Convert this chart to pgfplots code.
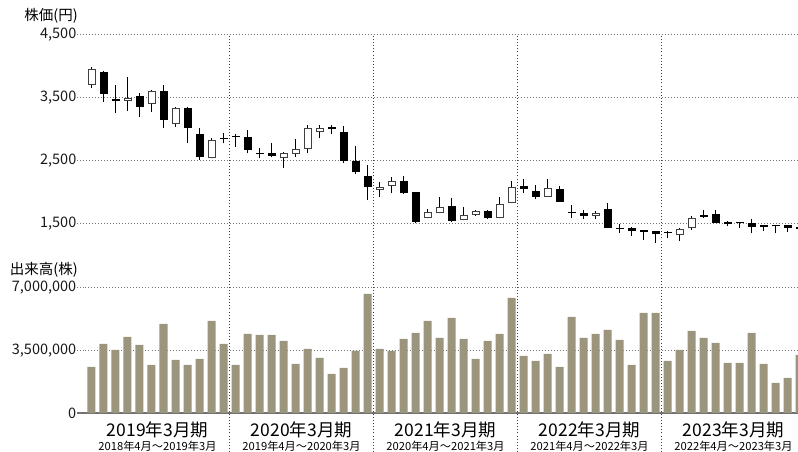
\documentclass[border=0pt]{standalone}
\usepackage{fontspec}
\setmainfont{Noto Sans CJK JP}
\usepackage{pgfplots}
\usepackage{pgfplotstable}
\pgfplotsset{compat=1.18}
\definecolor{barcol}{HTML}{9A957C}
\definecolor{gridcol}{HTML}{777777}

\pgfplotstableread{
x O H L C
0 3706 3987 3654 3956
3 3448 3829 3298 3495
5 3400 3627 3283 3616
7 3083 3352 3045 3341
10 2543 2860 2543 2829
16 2543 2648 2384 2632
17 2606 2844 2569 2686
18 2686 3071 2622 3024
19 2965 3071 2860 3029
24 2040 2171 1933 2092
25 2103 2251 1987 2183
28 1590 1733 1590 1690
29 1680 1924 1670 1765
31 1559 1765 1559 1638
32 1643 1722 1627 1701
34 1590 1924 1590 1817
35 1838 2183 1829 2092
38 1934 2210 1934 2077
42 1627 1711 1575 1670
49 1325 1442 1235 1421
50 1432 1627 1405 1590
}\upT

\pgfplotstableread{
x O H L C
1 3913 3933 3441 3568
2 3484 3706 3257 3460
4 3532 3575 3203 3357
6 3606 3706 3029 3156
8 3346 3352 2781 3024
9 2933 3019 2516 2559
11 2865 2940 2781 2845
12 2895 2924 2727 2877
13 2876 2992 2622 2675
14 2632 2702 2543 2612
15 2632 2790 2559 2580
20 3040 3071 2924 3005
21 2956 3056 2463 2505
22 2505 2738 2294 2321
23 2262 2437 1881 2083
26 2187 2262 1976 1997
27 2003 2010 1511 1537
30 1791 1908 1537 1553
33 1701 1717 1580 1590
36 2103 2210 1987 2056
37 2024 2119 1892 1934
39 2056 2103 1854 1854
40 1697 1802 1600 1675
41 1670 1722 1575 1627
43 1738 1828 1432 1432
44 1442 1500 1362 1420
45 1441 1457 1315 1389
46 1399 1399 1246 1378
47 1394 1394 1203 1336
48 1370 1394 1273 1355
51 1637 1722 1590 1617
52 1659 1722 1521 1521
53 1527 1553 1468 1495
54 1535 1537 1432 1518
55 1511 1575 1352 1457
56 1478 1484 1394 1458
57 1484 1484 1352 1468
58 1484 1484 1378 1441
59 1445 1470 1400 1420
}\dnT

\pgfplotstableread{
x v
0 2576000
1 3864000
2 3528000
3 4256000
4 3808000
5 2688000
6 4984000
7 2968000
8 2688000
9 3024000
10 5152000
11 3864000
12 2688000
13 4424000
14 4368000
15 4368000
16 4032000
17 2744000
18 3584000
19 3080000
20 2184000
21 2520000
22 3472000
23 6664000
24 3584000
25 3472000
26 4144000
27 4480000
28 5152000
29 4200000
30 5320000
31 4144000
32 3024000
33 4032000
34 4424000
35 6440000
36 3192000
37 2912000
38 3304000
39 2576000
40 5376000
41 4200000
42 4424000
43 4648000
44 4088000
45 2688000
46 5600000
47 5600000
48 2912000
49 3528000
50 4592000
51 4200000
52 3920000
53 2800000
54 2800000
55 4480000
56 2744000
57 1680000
58 1960000
59 3248000
}\volT

\pgfplotsset{
  common/.style={
    scale only axis,
    width=712.5pt,
    xmin=-0.5, xmax=58.875,
    axis line style={draw=none},
    xtick=\empty,
    extra x ticks={11.5,23.5,35.5,47.5},
    extra x tick labels={},
    extra x tick style={grid=major, major tick length=0pt,
      major grid style={draw=black!75, line width=0.9pt, dash pattern=on 0.9pt off 2.2pt}},
    ymajorgrids,
    major grid style={draw=gridcol, line width=1pt, dash pattern=on 1pt off 2pt},
    tick align=outside,
    major tick length=8pt,
    tick style={draw=gridcol, line width=1pt, dash pattern=on 1pt off 2pt},
    tick label style={font=\fontsize{14.5}{14.5}\selectfont, text=black!90},
    yticklabel style={inner sep=1pt},
    clip=true,
  }
}
\newcommand{\fyfont}{\fontsize{17.5}{17.5}\selectfont}
\newcommand{\subfont}{\fontsize{11.2}{11.2}\selectfont}

\begin{document}
\begin{tikzpicture}[x=1pt,y=1pt]
\path[use as bounding box] (0,0) rectangle (798,452);

% price panel
\begin{axis}[common,
  at={(85.5pt,164pt)}, anchor=south west,
  height=253pt,
  ymin=484, ymax=4500,
  ytick={1500,2500,3500,4500},
  yticklabels={{1,500},{2,500},{3,500},{4,500}},
]
\addplot[draw=none, error bars/.cd, y dir=plus, y explicit, error mark=none,
  error bar style={draw=black, line width=1.8pt}]
  table[x=x, y=L, y error plus expr=\thisrow{H}-\thisrow{L}] {\upT};
\addplot[draw=none, error bars/.cd, y dir=plus, y explicit, error mark=none,
  error bar style={draw=black, line width=1.8pt}]
  table[x=x, y=L, y error plus expr=\thisrow{H}-\thisrow{L}] {\dnT};
\addplot[draw=none, error bars/.cd, y dir=plus, y explicit, error mark=none,
  error bar style={draw=black, line width=8pt}]
  table[x=x, y=C, y error plus expr=\thisrow{O}-\thisrow{C}] {\dnT};
\addplot[draw=none, error bars/.cd, y dir=plus, y explicit, error mark=none,
  error bar style={draw=black!75, line width=8pt}]
  table[x=x, y=O, y error plus expr=\thisrow{C}-\thisrow{O}] {\upT};
\addplot[draw=none, error bars/.cd, y dir=plus, y explicit, error mark=none,
  error bar style={draw=white, line width=6pt}]
  table[x=x, y expr=\thisrow{O}+16, y error plus expr=\thisrow{C}-\thisrow{O}-32] {\upT};
\end{axis}

% volume panel
\begin{axis}[common,
  at={(85.5pt,0pt)}, anchor=south west,
  height=164pt,
  ymin=-2184000, ymax=7000000,
  ytick={3500000,7000000},
  yticklabels={{3,500,000},{7,000,000}},
  scaled y ticks=false,
  extra y ticks={0},
  extra y tick labels={0},
  extra y tick style={grid=major,
     major grid style={draw=black!55, line width=1.8pt, solid},
     tick style={draw=black!55, line width=1.8pt, solid}},
]
\addplot[ybar, bar width=8pt, bar shift=0pt, fill=barcol, draw=none]
  table[x=x, y=v] {\volT};
\node[font=\fyfont] at (axis cs:5.5,-952000) {2019年3月期};
\node[font=\fyfont] at (axis cs:17.5,-952000) {2020年3月期};
\node[font=\fyfont] at (axis cs:29.5,-952000) {2021年3月期};
\node[font=\fyfont] at (axis cs:41.5,-952000) {2022年3月期};
\node[font=\fyfont] at (axis cs:53.5,-952000) {2023年3月期};
\node[font=\subfont] at (axis cs:5.5,-1880000) {2018年4月～2019年3月};
\node[font=\subfont] at (axis cs:17.5,-1880000) {2019年4月～2020年3月};
\node[font=\subfont] at (axis cs:29.5,-1880000) {2020年4月～2021年3月};
\node[font=\subfont] at (axis cs:41.5,-1880000) {2021年4月～2022年3月};
\node[font=\subfont] at (axis cs:53.5,-1880000) {2022年4月～2023年3月};
\end{axis}

\node[anchor=east, font=\fontsize{14.5}{14.5}\selectfont, inner sep=0pt] at (78,436) {株価(円)};
\node[anchor=east, font=\fontsize{14.5}{14.5}\selectfont, inner sep=0pt] at (78,182) {出来高(株)};
\end{tikzpicture}
\end{document}
